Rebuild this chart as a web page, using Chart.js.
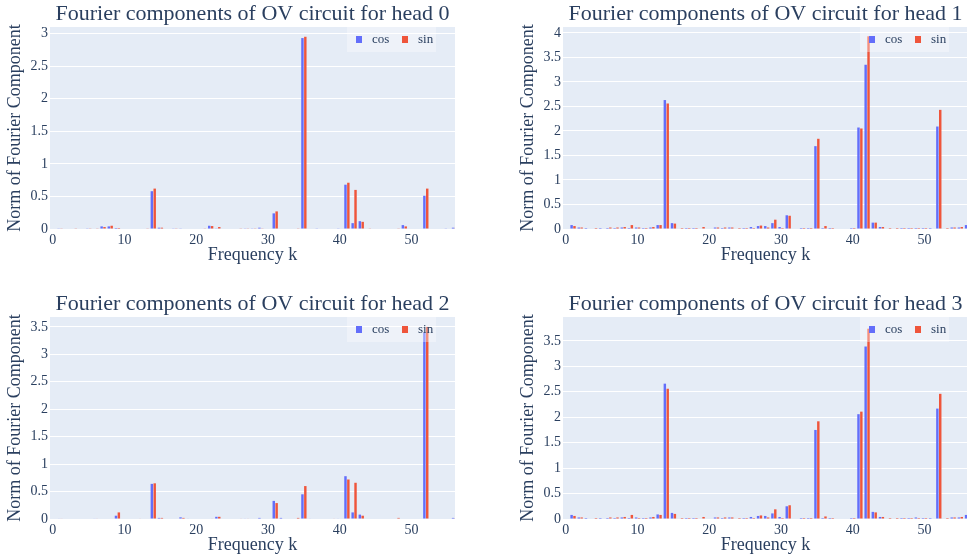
<!DOCTYPE html>
<html>
<head>
<meta charset="utf-8">
<script src="https://cdn.jsdelivr.net/npm/chart.js@4"></script>
<style>
  html, body { margin: 0; padding: 0; background: #fff; overflow: hidden; }
  body { width: 967px; height: 558px; position: relative; }
  canvas { position: absolute; }
</style>
</head>
<body>
<canvas id="c0" width="483" height="279" style="left:0;top:0"></canvas>
<canvas id="c1" width="483" height="279" style="left:513px;top:0"></canvas>
<canvas id="c2" width="483" height="279" style="left:0;top:290px"></canvas>
<canvas id="c3" width="483" height="279" style="left:513px;top:290px"></canvas>
<script>
// frequencies k = 0..56
const freqs = Array.from({ length: 57 }, (_, i) => i);

const cosHead0 = [0,0.01,0,0,0,0.005,0,0.04,0.04,0.015, 0,0,0,0,0.58,0.02,0,0.01,0.01,0, 0,0,0.05,0.01,0,0,0,0.01,0.01,0.02, 0,0.24,0,0,0,2.93,0,0.01,0,0, 0.01,0.68,0.09,0.12,0,0,0,0,0,0.06, 0,0,0.51,0,0,0.01,0.02];
const sinHead0 = [0,0.01,0,0.005,0,0.005,0.01,0.03,0.05,0.015, 0,0,0,0.01,0.62,0.02,0,0.01,0,0, 0,0.01,0.045,0.03,0,0,0.01,0.01,0.005,0.01, 0,0.27,0,0,0.005,2.95,0,0,0,0, 0,0.71,0.6,0.11,0.01,0,0,0,0.01,0.04, 0,0,0.62,0,0,0,0.02];

const cosHead1 = [0,0.08,0.03,0.02,0,0.02,0.02,0.02,0.03,0.02, 0.03,0.02,0.03,0.08,2.63,0.12,0.01,0.02,0.02,0.01, 0,0.03,0.02,0.03,0.01,0.02,0.04,0.06,0.06,0.12, 0.04,0.28,0.01,0.02,0.02,1.69,0.02,0.02,0,0, 0.02,2.07,3.35,0.13,0.04,0,0,0.02,0.02,0.02, 0.02,0.02,2.09,0.01,0.03,0.03,0.08];
const sinHead1 = [0,0.06,0.03,0.01,0.02,0.01,0.03,0.03,0.04,0.08, 0.03,0.02,0.04,0.08,2.56,0.11,0.02,0.02,0.02,0.04, 0,0.03,0.03,0.03,0.02,0.02,0.02,0.07,0.03,0.19, 0.02,0.27,0,0.02,0.02,1.84,0.06,0.02,0,0.01, 0.02,2.05,3.93,0.13,0.04,0.02,0.02,0.02,0.02,0.02, 0.02,0.01,2.43,0.02,0.03,0.04,0.08];

const cosHead2 = [0,0.01,0,0,0,0,0.01,0,0,0.06, 0,0,0,0,0.64,0.02,0,0,0.03,0.01, 0,0,0,0.04,0,0,0,0.01,0,0.02, 0,0.33,0.02,0,0,0.45,0.01,0,0,0, 0.01,0.78,0.12,0.08,0,0,0,0,0,0, 0,0,3.4,0,0,0,0.02];
const sinHead2 = [0,0.01,0,0,0,0,0.01,0,0,0.12, 0,0,0.01,0,0.65,0.02,0,0,0.02,0, 0,0,0.01,0.04,0,0,0.01,0.01,0,0, 0,0.29,0,0,0.02,0.6,0,0,0,0.01, 0,0.72,0.66,0.06,0,0,0,0,0.02,0, 0,0,3.5,0,0,0,0.02];

const cosHead3 = [0,0.08,0.03,0.02,0,0.02,0.02,0.02,0.03,0.02, 0.03,0.02,0.03,0.09,2.66,0.12,0.01,0.02,0.02,0.01, 0,0.03,0.02,0.03,0.01,0.02,0.04,0.06,0.06,0.11, 0.04,0.25,0.01,0.02,0.02,1.75,0.02,0.02,0,0, 0.02,2.06,3.39,0.14,0.04,0,0,0.02,0.02,0.03, 0.02,0.02,2.17,0.01,0.03,0.03,0.08];
const sinHead3 = [0,0.06,0.03,0.01,0.02,0.01,0.03,0.03,0.04,0.08, 0.02,0.02,0.04,0.08,2.56,0.1,0.02,0.02,0.02,0.04, 0,0.03,0.03,0.03,0.02,0.02,0.02,0.07,0.03,0.19, 0.02,0.27,0,0.02,0.02,1.92,0.05,0.02,0,0.01, 0.02,2.11,3.74,0.13,0.04,0.02,0.02,0.02,0.02,0.02, 0.02,0.01,2.46,0.02,0.03,0.04,0.1];

const heads = [
  { title: 'Fourier components of OV circuit for head 0', cos: cosHead0, sin: sinHead0, yMax: 3.1 },
  { title: 'Fourier components of OV circuit for head 1', cos: cosHead1, sin: sinHead1, yMax: 4.12 },
  { title: 'Fourier components of OV circuit for head 2', cos: cosHead2, sin: sinHead2, yMax: 3.68 },
  { title: 'Fourier components of OV circuit for head 3', cos: cosHead3, sin: sinHead3, yMax: 3.97 },
];

const FONT = '"Liberation Serif", "Times New Roman", serif';
const TEXT = '#2a3f5f';

// plot background
const plotBg = {
  id: 'plotBg',
  beforeDraw(chart) {
    const { ctx, chartArea: a } = chart;
    ctx.save();
    ctx.fillStyle = '#E5ECF6';
    ctx.fillRect(a.left, a.top, a.right - a.left, a.bottom - a.top);
    ctx.restore();
  }
};

// plotly-like legend in the top right corner
const cornerLegend = {
  id: 'cornerLegend',
  afterDatasetsDraw(chart) {
    const { ctx, chartArea: a } = chart;
    const left = a.right - 108, top = a.top;
    ctx.save();
    ctx.fillStyle = 'rgba(255,255,255,0.35)';
    ctx.fillRect(left, top, 89, 25);
    ctx.font = '13px ' + FONT;
    ctx.textBaseline = 'middle';
    chart.data.datasets.forEach((ds, i) => {
      const x = left + 9 + i * 46;
      ctx.fillStyle = ds.backgroundColor;
      ctx.fillRect(x, top + 9, 6, 7);
      ctx.fillStyle = TEXT;
      ctx.fillText(ds.label, x + 16, top + 13);
    });
    ctx.restore();
  }
};

heads.forEach((h, idx) => {
  new Chart(document.getElementById('c' + idx), {
    type: 'bar',
    data: {
      datasets: [
        { label: 'cos', data: freqs.map((k, i) => ({ x: k, y: h.cos[i] })), backgroundColor: '#636EFA' },
        { label: 'sin', data: freqs.map((k, i) => ({ x: k, y: h.sin[i] })), backgroundColor: '#EF553B' },
      ]
    },
    options: {
      responsive: false,
      animation: false,
      layout: { padding: { left: 0, right: 28, top: 0.6, bottom: 0 } },
      datasets: { bar: { categoryPercentage: 0.8, barPercentage: 0.85, borderWidth: 0 } },
      plugins: {
        legend: { display: false },
        tooltip: { enabled: false },
        title: {
          display: true,
          text: h.title,
          fullSize: false,
          color: TEXT,
          font: { family: FONT, size: 22, weight: 'normal' },
          padding: { top: 0, bottom: 0 }
        }
      },
      scales: {
        x: {
          type: 'linear',
          offset: false,
          min: -0.4,
          max: 56.07,
          grid: { display: false, drawTicks: false, offset: false },
          border: { display: false },
          ticks: { stepSize: 10, includeBounds: false, padding: 3, color: TEXT, font: { family: FONT, size: 14 }, maxRotation: 0, autoSkip: false, callback: v => String(v) },
          afterFit: s => { s.height = 50; },
          title: { display: true, text: 'Frequency k', color: TEXT, font: { family: FONT, size: 18 }, padding: { top: 0, bottom: 13 } }
        },
        y: {
          min: 0,
          max: h.yMax,
          grid: { color: '#ffffff', lineWidth: 1, drawTicks: false },
          border: { display: false },
          ticks: { stepSize: 0.5, includeBounds: false, padding: 2, color: TEXT, font: { family: FONT, size: 14 }, autoSkip: false, callback: v => String(v) },
          afterFit: s => { s.width = 50; },
          title: { display: true, text: 'Norm of Fourier Component', color: TEXT, font: { family: FONT, size: 18 }, padding: { top: 4, bottom: 0 } }
        }
      }
    },
    plugins: [plotBg, cornerLegend]
  });
});
</script>
</body>
</html>
